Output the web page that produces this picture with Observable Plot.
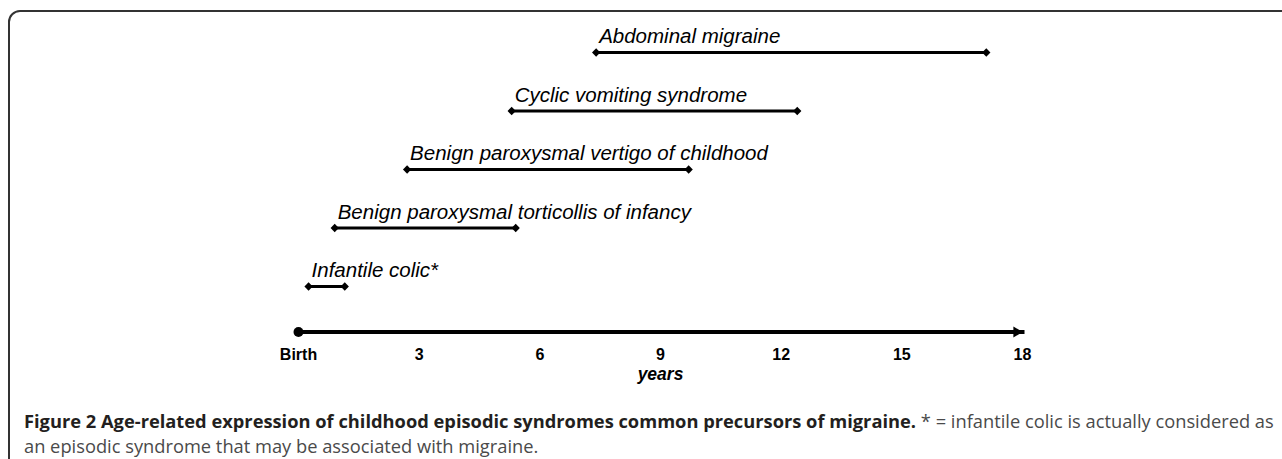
<!DOCTYPE html>
<html><head><meta charset="utf-8">
<script src="https://cdn.jsdelivr.net/npm/d3@7"></script>
<script src="https://cdn.jsdelivr.net/npm/@observablehq/plot@0.6"></script>
<style>
html,body{margin:0;padding:0;background:#fff;overflow:hidden;width:1282px;height:459px;}
#frame{position:absolute;left:8px;top:10px;width:1400px;height:600px;border:2px solid #333;border-radius:12px;box-sizing:border-box;}
#chart{position:absolute;left:0;top:0;}
#caption{position:absolute;left:24px;top:408px;font-family:"Open Sans",sans-serif;font-size:18.3px;line-height:25px;white-space:nowrap;color:#4a4a4a;}
#caption b{color:#231f20;}
</style></head><body>
<div id="frame"></div>
<div id="chart"></div>
<div id="caption"><b>Figure 2 Age-related expression of childhood episodic syndromes common precursors of migraine.</b> * = infantile colic is actually considered as<br>an episodic syndrome that may be associated with migraine.</div>
<script>
const syndromes = ["Infantile colic*", "Benign paroxysmal torticollis of infancy", "Benign paroxysmal vertigo of childhood", "Cyclic vomiting syndrome", "Abdominal migraine"];
const startAge = [0.25, 0.9, 2.7, 5.3, 7.4];
const endAge = [1.15, 5.4, 9.7, 12.4, 17.1];
const tickValues = [0, 3, 6, 9, 12, 15, 18];
const tickLabels = ["Birth", "3", "6", "9", "12", "15", "18"];
const axisLabel = "years";

const rows = syndromes.map((name, i) => ({name, row: i, start: startAge[i], end: endAge[i]}));
const ends = rows.flatMap(d => [{age: d.start, row: d.row}, {age: d.end, row: d.row}]);

const W = 1282, H = 395, axisY = 331.5;
const plot = Plot.plot({
  width: W, height: H,
  marginLeft: 298, marginRight: W - 1022, marginTop: 52, marginBottom: H - axisY,
  x: {domain: [tickValues[0], tickValues[tickValues.length - 1]]},
  y: {domain: [0, syndromes.length - 1], insetBottom: 45.5, axis: null},
  style: {fontFamily: "'Liberation Sans', Arial, sans-serif", background: "transparent", color: "#000"},
  marks: [
    Plot.frame({anchor: "bottom", stroke: "#000", strokeWidth: 4}),
    Plot.dot([tickValues[0]], {x: d => d, frameAnchor: "bottom", r: 5, fill: "#000"}),
    Plot.dot([tickValues[tickValues.length - 1]], {x: d => d, frameAnchor: "bottom", symbol: "triangle", r: 4, rotate: 90, fill: "#000", dx: -6}),
    Plot.ruleY(rows, {y: "row", x1: "start", x2: "end", stroke: "#000", strokeWidth: 3}),
    Plot.dot(ends, {x: "age", y: "row", symbol: "square", r: 3.3, rotate: 45, fill: "#000"}),
    Plot.text(rows, {x: "start", y: "row", text: "name", textAnchor: "start", dx: 3, dy: -16, fontSize: 20.5, fontStyle: "italic", fill: "#000"}),
    Plot.axisX({ticks: tickValues, tickFormat: d => tickLabels[tickValues.indexOf(d)], tickSize: 0, tickPadding: 17, fontSize: 16, fontWeight: "bold", label: null, fill: "#000"}),
    Plot.text([axisLabel], {frameAnchor: "bottom", text: d => d, dy: 48, fontSize: 17.5, fontWeight: "bold", fontStyle: "italic", fill: "#000"})
  ]
});
document.getElementById("chart").appendChild(plot);
</script>
</body></html>
